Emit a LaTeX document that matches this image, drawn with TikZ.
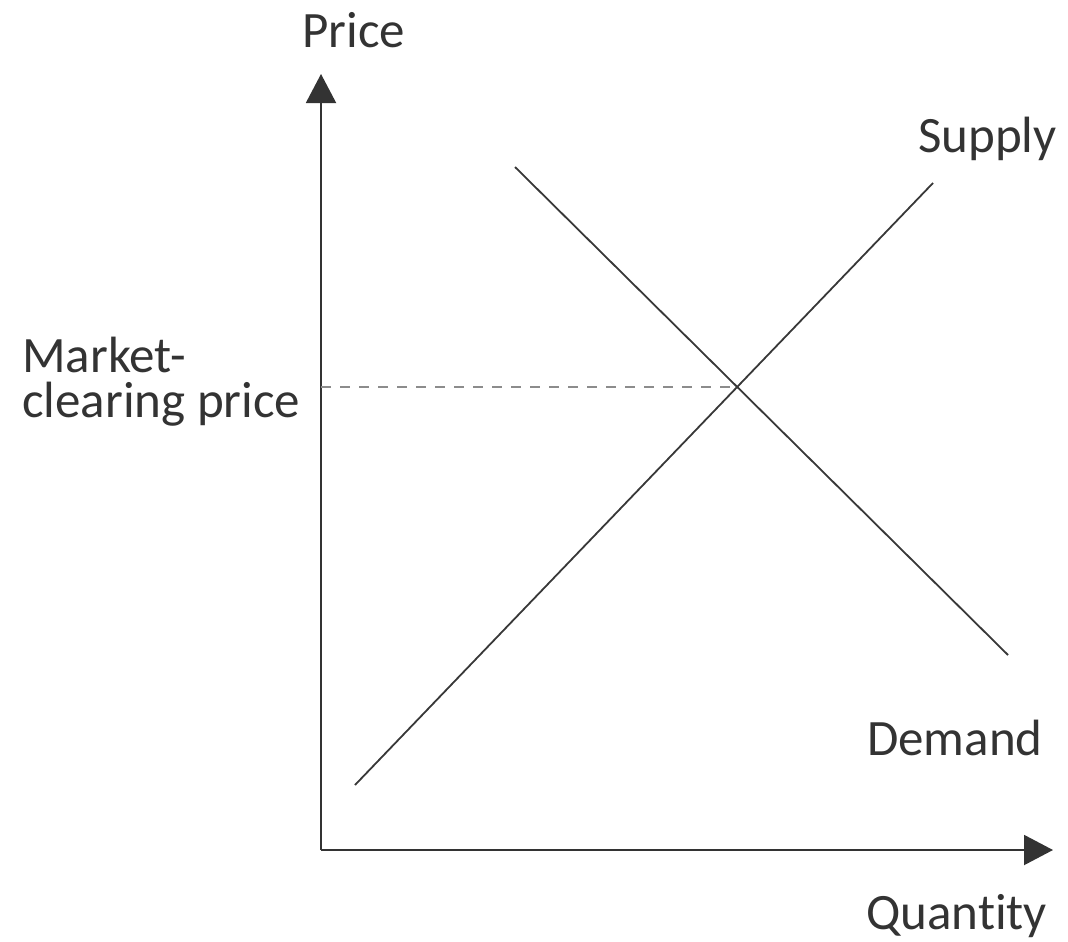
\documentclass[tikz,border=0pt]{standalone}
\usepackage{fontspec}
\setmainfont[Ligatures={NoCommon}]{Carlito}
\usetikzlibrary{arrows.meta}
\begin{document}
\begin{tikzpicture}[x=1pt,y=-1pt,
  axis/.style={line width=2pt,draw=black!80,-{Triangle[length=29pt,width=30pt]}},
  curve/.style={line width=1.8pt,draw=black!78},
  guide/.style={line width=2.4pt,draw=black!45,dash pattern=on 10pt off 9pt},
  lbl/.style={anchor=base west,inner sep=0pt,text=black!80,font=\fontsize{51}{45}\selectfont}]
\useasboundingbox (0,0) rectangle (1068,942);
\coordinate (O) at (321,850);
\coordinate (ytip) at (321,74);
\coordinate (xtip) at (1053,850);
\coordinate (s1) at (355,785);
\coordinate (s2) at (933,183);
\coordinate (d1) at (515,167);
\coordinate (d2) at (1008,655);
\coordinate (eq) at (737,387);
\coordinate (pax) at (321,387);
\draw[axis] (O) -- (ytip);
\draw[axis] (O) -- (xtip);
\draw[curve] (s1) -- (s2);
\draw[curve] (d1) -- (d2);
\draw[guide] (pax) -- (eq);
\node[lbl] (price) at (302,48) {Price};
\node[lbl] (supply) at (918,152) {Supply};
\node[lbl] (mcp) at (22,372) {Market-};
\node[lbl] (mcp2) at (22,417) {clearing price};
\node[lbl] (demand) at (867,755) {Demand};
\node[lbl] (qty) at (866,929) {Quantity};
\end{tikzpicture}
\end{document}
